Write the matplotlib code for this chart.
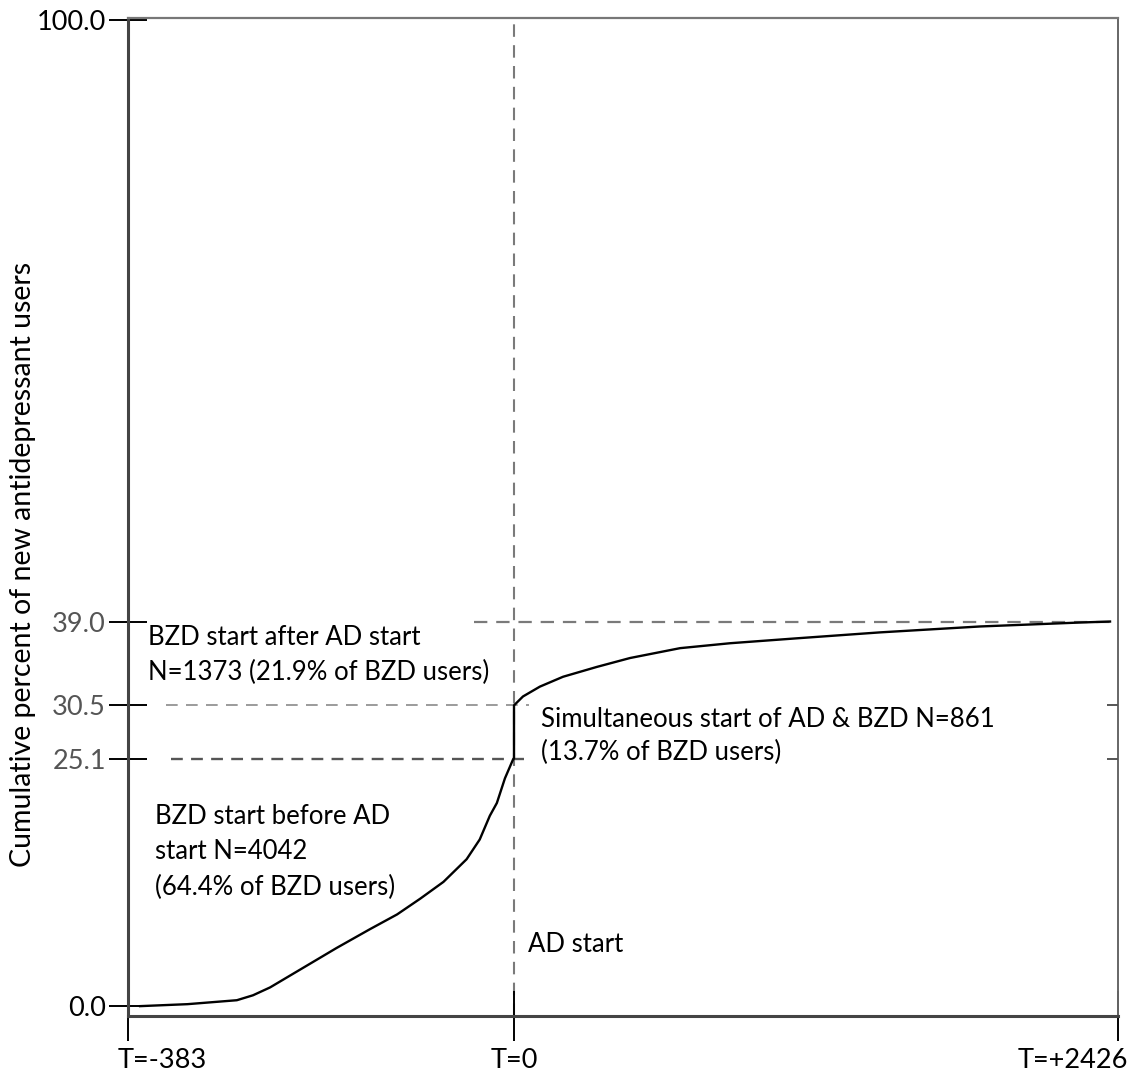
import numpy as np
import matplotlib
matplotlib.use("Agg")
import matplotlib.pyplot as plt

# Werte (Tage relativ zum AD-Start, kumulative %)
t_days = [-371, -324, -275, -259, -242, -209, -176, -143, -116, -93, -70, -47,
          -34, -24, -17, -9, -1, 0, 0, 36, 104, 197, 333, 466, 667, 868, 1137,
          1470, 1872, 2274, 2394]
cum_pct = [0.0, 0.2, 0.6, 1.1, 1.9, 3.9, 5.9, 7.8, 9.3, 10.9, 12.6, 14.9,
           16.9, 19.3, 20.6, 23.1, 25.0, 25.1, 30.5, 31.4, 32.4, 33.4, 34.4,
           35.3, 36.3, 36.8, 37.3, 37.9, 38.5, 38.9, 39.0]

t_min, t_max = -383, 2426
y_ticks = [0.0, 25.1, 30.5, 39.0, 100.0]
y_labels = ["0.0", "25.1", "30.5", "39.0", "100.0"]
x_ticks = [t_min, 0, t_max]
x_labels = ["T=-383", "T=0", "T=+2426"]

labels = {
    "after": "BZD start after AD start\nN=1373 (21.9% of BZD users)",
    "simul": "Simultaneous start of AD & BZD N=861\n(13.7% of BZD users)",
    "before": "BZD start before AD\nstart N=4042\n(64.4% of BZD users)",
    "ad": "AD start",
}

plt.rcParams["font.family"] = ["Lato", "DejaVu Sans"]
FS = 18.5
FS_TICK = 19.5

# unterschiedliche Streckung links/rechts von T=0
L_W, R_W = 386.0, 604.0


def fwd(t):
    t = np.asarray(t, dtype=float)
    return np.where(t < 0, t / -t_min * L_W, t / t_max * R_W)


def inv(u):
    u = np.asarray(u, dtype=float)
    return np.where(u < 0, u / L_W * -t_min, u / R_W * t_max)


fig = plt.figure(figsize=(11.28, 10.77), dpi=100)
ax = fig.add_axes([128 / 1128, 1 - 1016 / 1077, 990 / 1128, 998 / 1077])
ax.set_xscale("function", functions=(fwd, inv))
ax.set_xlim(t_min, t_max)
ax.set_ylim(-1.0, 100.2)

# Hilfslinien
ax.axvline(0, color="#7a7a7a", lw=1.5, dashes=(6, 4), zorder=1)
ax.hlines(39.0, -40, t_max, color="#7a7a7a", lw=1.6, linestyles=(0, (6, 4)), zorder=1)
ax.hlines(30.5, -345, 60, color="#8a8a8a", lw=1.2, linestyles=(0, (7, 5)), zorder=1)
ax.hlines(25.1, -340, 60, color="#555555", lw=1.7, linestyles=(0, (5, 3.5)), zorder=1)

# Kurve
ax.plot(t_days, cum_pct, color="black", lw=1.7, zorder=3)

ax.set_yticks(y_ticks)
ax.set_yticklabels(y_labels, fontsize=FS_TICK)
for lab in ax.yaxis.get_majorticklabels()[1:4]:
    lab.set_color("#555555")
ax.set_xticks(x_ticks)
ax.set_xticklabels([])
ax.minorticks_off()
ax.tick_params(axis="y", direction="inout", length=28, width=1.4, pad=2, color="black")
ax.tick_params(axis="x", direction="inout", length=36, width=1.4, color="black")

# x-Beschriftung von Hand versetzt (wie im Original)
x_shift = [-10, 0, 10]
x_ha = ["left", "center", "right"]
for t, lab, dx, ha in zip(x_ticks, x_labels, x_shift, x_ha):
    ax.annotate(lab, xy=(t, 0), xycoords=("data", "axes fraction"),
                xytext=(dx, -44), textcoords="offset pixels",
                ha=ha, va="center", fontsize=FS_TICK, annotation_clip=False)

# kleine Markierungen rechts
ax2 = ax.twinx()
ax2.set_ylim(ax.get_ylim())
ax2.set_yticks([25.1, 30.5])
ax2.set_yticklabels([])
ax2.tick_params(axis="y", direction="in", length=8, width=1.4, color="#555555")
for s in ax2.spines.values():
    s.set_visible(False)

for s in ["left", "bottom"]:
    ax.spines[s].set_color("#444444")
    ax.spines[s].set_linewidth(2.2)
ax.spines["top"].set_color("#777777")
ax.spines["top"].set_linewidth(1.6)
ax.spines["right"].set_color("#666666")
ax.spines["right"].set_linewidth(1.4)

ax.set_ylabel("Cumulative percent of new antidepressant users", fontsize=20.5)
ax.yaxis.set_label_coords(-0.093, 0.452)

ax.text(0.02, 0.3617, labels["after"], transform=ax.transAxes, fontsize=FS,
        va="center", ha="left", linespacing=1.5)
ax.text(0.417, 0.2806, labels["simul"], transform=ax.transAxes, fontsize=FS,
        va="center", ha="left", linespacing=1.42)
ax.text(0.0273, 0.1643, labels["before"], transform=ax.transAxes, fontsize=FS,
        va="center", ha="left", linespacing=1.5)
ax.text(0.404, 0.0721, labels["ad"], transform=ax.transAxes, fontsize=FS,
        va="center", ha="left")

fig.savefig("out.png", dpi=100)
